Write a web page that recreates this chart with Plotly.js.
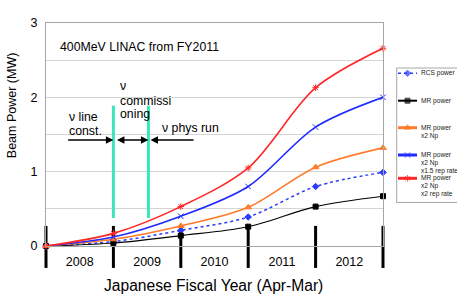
<!DOCTYPE html>
<html><head><meta charset="utf-8">
<script src="https://cdn.plot.ly/plotly-3.0.1.min.js"></script>
<style>html,body{margin:0;padding:0;background:#fff;}#chart{width:457px;height:297px;}</style>
</head><body><div id="chart"></div>
<script>
// ---- data ----
const boundaries = [0, 1, 2, 3, 4, 5];          // fiscal-year boundaries (x)
const yearCenters = [0.5, 1.5, 2.5, 3.5, 4.5];
const yearLabels = ['2008', '2009', '2010', '2011', '2012'];
const rcsPower      = [0, 0.06, 0.21, 0.39, 0.80, 0.99];
const mrPower       = [0, 0.04, 0.14, 0.26, 0.53, 0.67];
const mrPower2Np    = [0, 0.09, 0.27, 0.52, 1.06, 1.32];
const mrPower2Np15  = [0, 0.12, 0.40, 0.80, 1.60, 2.00];
const mrPower2Np2   = [0, 0.17, 0.53, 1.05, 2.13, 2.66];
const yTicks = [0, 1, 2, 3];
const seriesNames = ['RCS power', 'MR power', 'MR power x2 Np', 'MR power x2 Np x1.5 rep rate', 'MR power x2 Np x2 rep rate'];
const legendLines = [['RCS power'], ['MR power'], ['MR power', 'x2 Np'], ['MR power', 'x2 Np', 'x1.5 rep rate'], ['MR power', 'x2 Np', 'x2 rep rate']];
const phaseMarks = [1, 1.52];                   // green phase-boundary lines
const phaseArrowY = 1.426;

// ---- geometry / styles ----
const W = 457, H = 297, ML = 46, MR = 0, MT = 23, MB = 51;
const plotRightPx = 383;
const PW = W - ML - MR, PH = H - MT - MB;
const px2x = px => (px - ML) / PW;
const px2y = py => (H - MB - py) / PH;
const XR = [0, 5], YR = [0, 3];
const FONT = 'Liberation Sans, Arial, sans-serif';

const styles = [
  {color: '#2a3cff', width: 1.5, dash: 'dot',   symbol: 'diamond',       size: 5,   lw: 1.5},
  {color: '#000000', width: 1.1, dash: 'solid', symbol: 'square',        size: 5,   lw: 2},
  {color: '#ff7c2e', width: 1.6, dash: 'solid', symbol: 'triangle-up',   size: 6,   lw: 3},
  {color: '#1f2bff', width: 1.6, dash: 'solid', symbol: 'x-thin-open',   size: 5.5, lw: 3},
  {color: '#ff2626', width: 1.6, dash: 'solid', symbol: 'asterisk-open', size: 5.5, lw: 3}
];
const seriesData = [rcsPower, mrPower, mrPower2Np, mrPower2Np15, mrPower2Np2];

const traces = seriesData.map((ys, i) => ({
  type: 'scatter', mode: 'lines+markers', name: seriesNames[i],
  x: boundaries, y: ys, xaxis: 'x', yaxis: 'y', showlegend: false, cliponaxis: false,
  line: {color: styles[i].color, width: styles[i].width, dash: styles[i].dash, shape: 'spline', smoothing: 0.9},
  marker: {symbol: styles[i].symbol, size: styles[i].size, color: styles[i].color,
           line: {color: styles[i].color, width: 1}}
}));

// ---- manual legend ----
const legRowY = [73.3, 100.7, 127.7, 155, 178.3];
const legLineStep = 8;
const shapes = [];
const annotations = [];
shapes.push({type: 'rect', xref: 'paper', yref: 'paper', x0: px2x(396.7), x1: px2x(470),
  y0: px2y(68), y1: px2y(202.5), line: {color: '#a6a6a6', width: 1}, fillcolor: 'rgba(0,0,0,0)'});
legRowY.forEach((ry, i) => {
  shapes.push({type: 'line', xref: 'paper', yref: 'paper', x0: px2x(398), x1: px2x(417),
    y0: px2y(ry), y1: px2y(ry), line: {color: styles[i].color, width: styles[i].lw, dash: styles[i].dash}});
  legendLines[i].forEach((t, k) => {
    annotations.push({xref: 'paper', yref: 'paper', x: px2x(419.3), y: px2y(ry + k * legLineStep),
      xanchor: 'left', yanchor: 'middle', showarrow: false, text: t,
      font: {family: FONT, size: 6.6, color: '#222'}});
  });
});
traces.push({type: 'scatter', mode: 'markers', xaxis: 'x2', yaxis: 'y2', showlegend: false, cliponaxis: false,
  hoverinfo: 'skip',
  x: legRowY.map(() => px2x(407.5)), y: legRowY.map(ry => px2y(ry)),
  marker: {symbol: styles.map(s => s.symbol), size: styles.map(s => s.size),
           color: styles.map(s => s.color), line: {color: styles.map(s => s.color), width: 1}}});

// ---- year-boundary bars ----
const barTop = 0.27, barBottom = -0.295;
const yDom = v => (v - YR[0]) / (YR[1] - YR[0]);
const xDom = v => (v - XR[0]) / (XR[1] - XR[0]);
boundaries.forEach(b => {
  shapes.push({type: 'line', xref: 'x domain', yref: 'y domain', layer: 'below',
    x0: xDom(b), x1: xDom(b), y0: yDom(barBottom), y1: yDom(barTop), line: {color: '#000', width: 3}});
});
// ---- green phase lines ----
phaseMarks.forEach(p => {
  shapes.push({type: 'line', xref: 'x', yref: 'y', x0: p, x1: p, y0: 0.377, y1: 1.888,
    line: {color: '#3ce6b8', width: 3}});
});
// ---- arrows ----
const arrowBase = {xref: 'x', yref: 'y', axref: 'x', ayref: 'y', text: '', showarrow: true,
  arrowhead: 2, arrowsize: 1, arrowwidth: 1.5, arrowcolor: '#000', standoff: 0, startstandoff: 0};
annotations.push(Object.assign({}, arrowBase, {x: phaseMarks[0], y: phaseArrowY, ax: 0.307, ay: phaseArrowY}));
annotations.push(Object.assign({}, arrowBase, {x: phaseMarks[1], y: phaseArrowY, ax: phaseMarks[0] + 0.03, ay: phaseArrowY,
  arrowside: 'end+start', startarrowhead: 2, startarrowsize: 1}));
annotations.push(Object.assign({}, arrowBase, {x: phaseMarks[1] + 0.03, y: phaseArrowY, ax: 2.211, ay: phaseArrowY}));

// ---- text annotations ----
const txt = (x, y, t, size) => ({xref: 'x', yref: 'y', x: x, y: y, text: t, showarrow: false,
  xanchor: 'left', yanchor: 'middle', font: {family: FONT, size: size || 12.3, color: '#000'}});
annotations.push(txt(0.178, 2.681, '400MeV LINAC from FY2011'));
annotations.push(txt(0.307, 1.740, 'ν line'));
annotations.push(txt(0.307, 1.547, 'const.'));
annotations.push(txt(1.068, 2.153, 'ν'));
annotations.push(txt(1.068, 1.955, 'commissi'));
annotations.push(txt(1.068, 1.772, 'oning'));
annotations.push(txt(1.691, 1.583, 'ν phys run'));

// axis titles
annotations.push({xref: 'paper', yref: 'paper', x: px2x(11.5), y: px2y(105.7), text: 'Beam Power (MW)',
  textangle: -90, showarrow: false, xanchor: 'center', yanchor: 'middle',
  font: {family: FONT, size: 12.5, color: '#000'}});
annotations.push({xref: 'paper', yref: 'paper', x: px2x(213), y: px2y(285.5), text: 'Japanese Fiscal Year (Apr-Mar)',
  showarrow: false, xanchor: 'center', yanchor: 'middle',
  font: {family: FONT, size: 15.6, color: '#000'}});

const layout = {
  width: W, height: H, margin: {l: ML, r: MR, t: MT, b: MB, pad: 0},
  paper_bgcolor: '#ffffff', plot_bgcolor: 'rgba(0,0,0,0)', showlegend: false,
  font: {family: FONT, color: '#000'},
  xaxis: {domain: [0, (plotRightPx - ML) / PW], range: XR, tickmode: 'array', tickvals: yearCenters, ticktext: yearLabels,
    showgrid: false, zeroline: false, showline: true, mirror: true, linecolor: '#a6a6a6', linewidth: 1,
    ticks: '', ticklabelstandoff: 4, tickfont: {family: FONT, size: 12.5, color: '#000'}, fixedrange: true},
  yaxis: {domain: [0, 1], range: YR, tickmode: 'array', tickvals: yTicks, ticktext: yTicks.map(String),
    showgrid: true, gridcolor: '#d4d4d4', gridwidth: 1, zeroline: false,
    minor: {dtick: 0.5, tick0: 0, showgrid: true, gridcolor: '#d4d4d4', gridwidth: 1},
    showline: true, mirror: true, linecolor: '#a6a6a6', linewidth: 1,
    ticks: '', ticklabelstandoff: 5, tickfont: {family: FONT, size: 12.5, color: '#000'}, fixedrange: true},
  xaxis2: {domain: [0, 1], range: [0, 1], visible: false, anchor: 'y2', fixedrange: true},
  yaxis2: {domain: [0, 1], range: [0, 1], visible: false, anchor: 'x2', fixedrange: true},
  shapes: shapes, annotations: annotations
};
Plotly.newPlot('chart', traces, layout, {staticPlot: true, displayModeBar: false});
</script></body></html>
